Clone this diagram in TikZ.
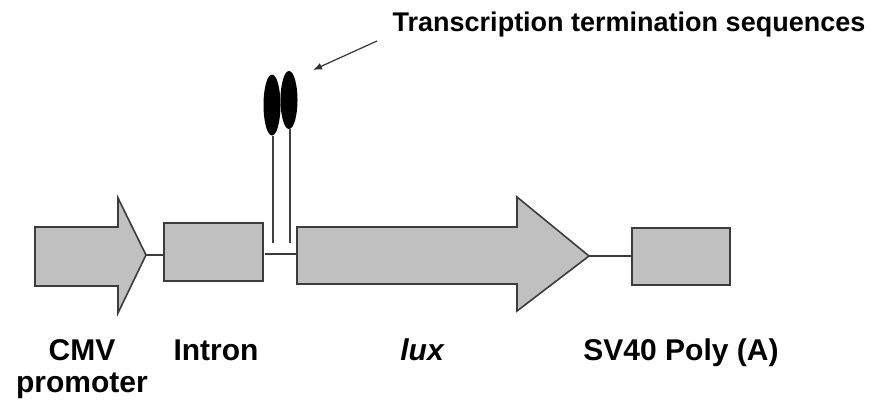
\documentclass[tikz,border=0pt]{standalone}
\usepackage{fontspec}
\setmainfont{Liberation Sans}
\usetikzlibrary{shapes.geometric,arrows.meta}
\definecolor{boxgray}{RGB}{192,192,192}
\definecolor{edgegray}{RGB}{60,60,60}
\tikzset{
  partshape/.style={fill=boxgray, draw=edgegray, line width=1.6pt, line join=miter},
  partbox/.style={partshape, rectangle, inner sep=0pt, anchor=north west},
  linker/.style={draw=edgegray, line width=1.6pt},
  stem/.style={draw=black!75, line width=1.3pt},
  blob/.style={ellipse, fill=black, inner sep=0pt},
  lbl/.style={font=\bfseries\fontsize{30}{32}\selectfont, anchor=base, inner sep=0pt},
  ttl/.style={font=\bfseries\fontsize{27}{30}\selectfont, anchor=base, inner sep=0pt}
}
\begin{document}
\begin{tikzpicture}[x=1pt,y=-1pt]
\useasboundingbox (0,0) rectangle (875,407);
% CMV promoter arrow
\draw[partshape] (35,227) -- (118,227) -- (118,198) -- (146,255) -- (118,313) -- (118,286) -- (35,286) -- cycle;
\coordinate (cmvtip) at (146,255);
% Intron
\node[partbox, minimum width=99pt, minimum height=58pt] (intron) at (163,222) {};
% lux arrow
\draw[partshape] (297,227) -- (517,227) -- (517,197) -- (589,256) -- (517,311) -- (517,284) -- (297,284) -- cycle;
\coordinate (luxtail) at (297,254);
\coordinate (luxtip) at (589,256);
% SV40 box
\node[partbox, minimum width=98pt, minimum height=57pt] (sv40) at (631,227) {};
% linkers
\draw[linker] (cmvtip) -- (cmvtip -| intron.west);
\coordinate (gapL) at (265,254);
\draw[linker] (gapL) -- (luxtail);
\draw[linker] (luxtip) -- (luxtip -| sv40.west);
% terminators
\node[blob, minimum width=17pt, minimum height=61pt] (t1) at (272,105) {};
\node[blob, minimum width=17pt, minimum height=58pt] (t2) at (289,100) {};
\coordinate (s1) at (273,243);
\coordinate (s2) at (290,243);
\draw[stem] (s1) -- (s1 |- t1.south);
\draw[stem] (s2) -- (s2 |- t2.south);
% title and pointer
\node[ttl] (title) at (629,31) {Transcription termination sequences};
\coordinate (ptrstart) at (377,41);
\coordinate (ptrend) at (313,70);
\draw[draw=black!80, line width=1.2pt, -{Latex[length=9pt,width=7pt]}] (ptrstart) -- (ptrend);
% labels
\node[lbl] (cmv) at (82,360) {CMV};
\node[lbl] (prom) at (82,392) {promoter};
\node[lbl] (intronlbl) at (216,360) {Intron};
\node[lbl] (luxlbl) at (422,360) {\itshape lux};
\node[lbl] (svlbl) at (681,360) {SV40 Poly (A)};
\end{tikzpicture}
\end{document}
